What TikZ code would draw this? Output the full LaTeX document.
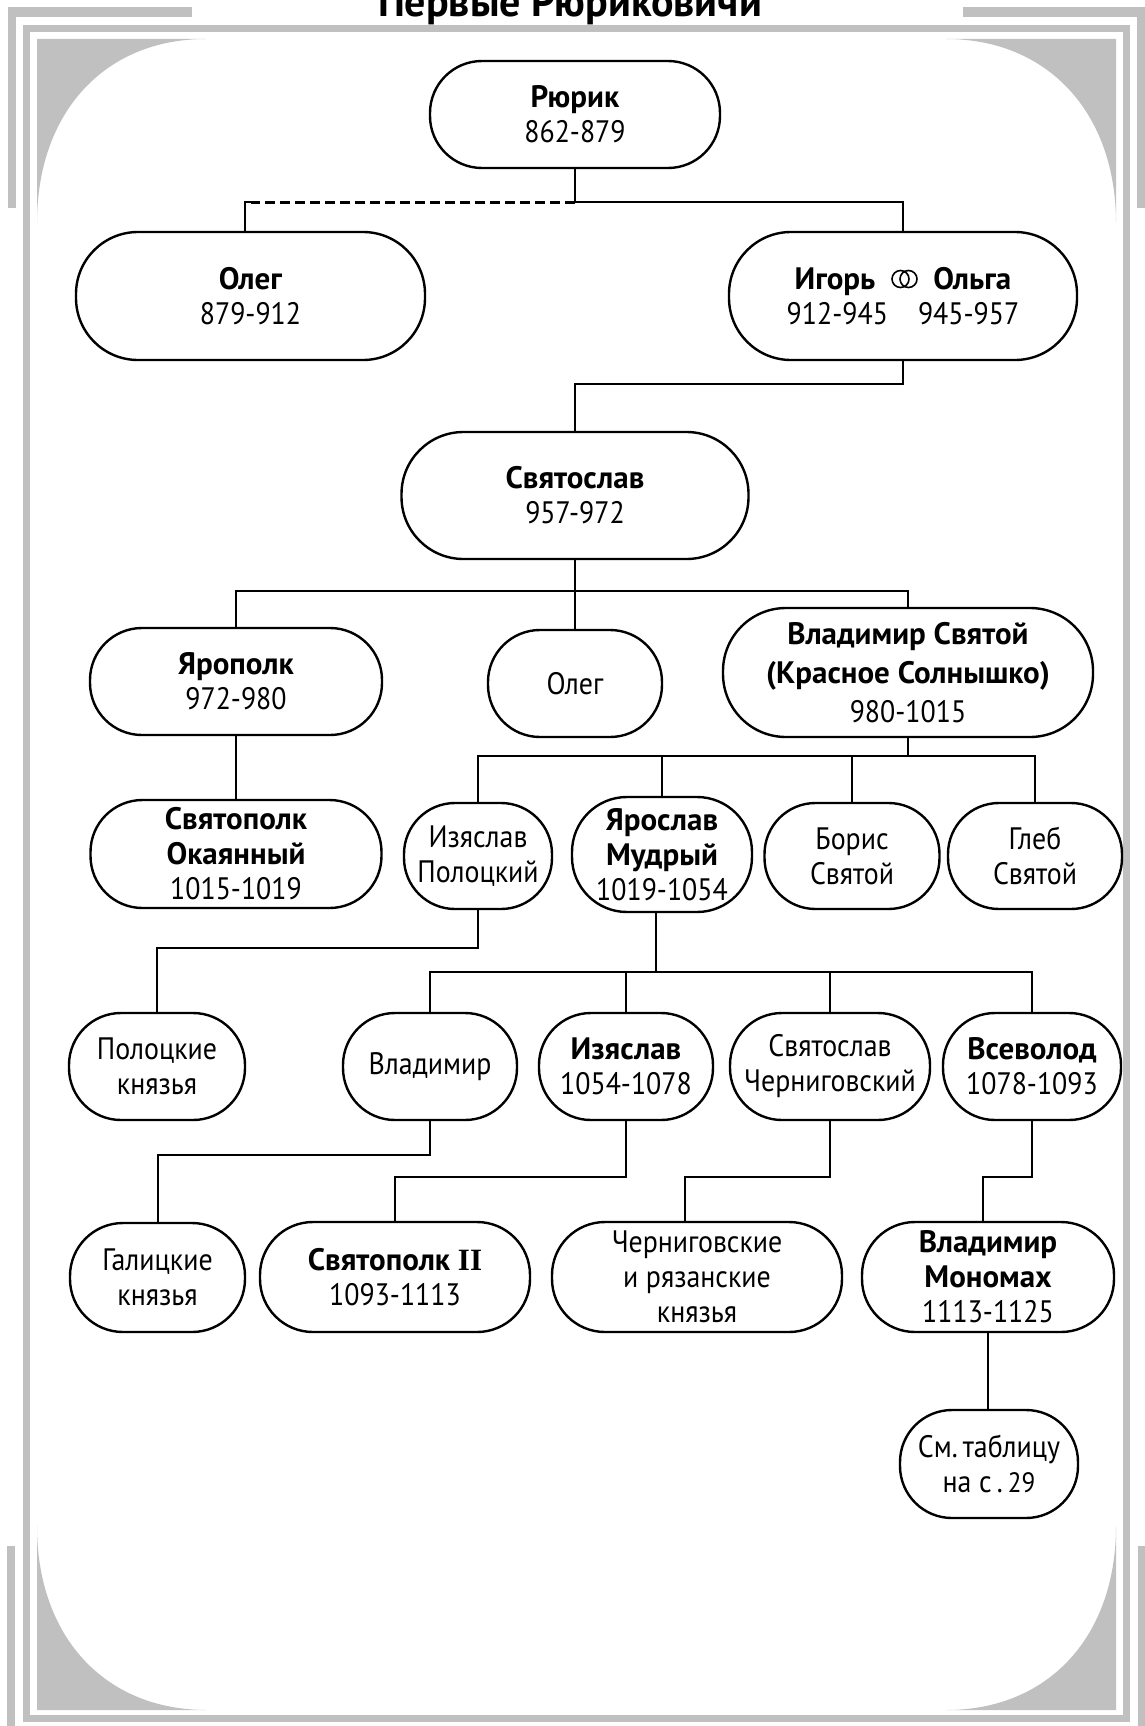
\documentclass[tikz,border=0pt]{standalone}
\usepackage{fontspec}
\setmainfont[FakeStretch=0.9, BoldFeatures={FakeStretch=1.0}]{PT Sans}
\newfontfamily\romanfont{Liberation Serif}
\usetikzlibrary{calc}
\definecolor{framegray}{RGB}{192,192,192}
\begin{document}
\begin{tikzpicture}[x=1pt,y=-1pt,
  pn/.style n args={3}{draw, line width=2.4pt, align=center, inner sep=0pt,
     minimum width=#1, minimum height=#2, rounded corners=#3,
     font=\fontsize{31}{35}\selectfont},
  link/.style={line width=2pt},
  dashlink/.style={line width=3pt, dash pattern=on 10pt off 5pt},
  ring/.style={line width=1.6pt}]
\useasboundingbox (0,0) rectangle (1145,1726);
% ---------- decorative frame ----------
\fill[framegray] (8,7) rectangle (192,17);
\fill[framegray] (8,7) rectangle (16,208);
\fill[framegray] (963,7) rectangle (1145,17);
\fill[framegray] (1137,7) rectangle (1145,208);
\fill[framegray] (7,1546) rectangle (15,1726);
\fill[framegray] (1138,1546) rectangle (1145,1726);
\draw[framegray, line width=7pt] (26.5,28.5) rectangle (1126.5,1718);
\fill[framegray] (37,39) -- (206,39) .. controls (104,39) and (37,113) .. (37,223) -- cycle;
\fill[framegray] (1116,39) -- (946,39) .. controls (1048,39) and (1116,113) .. (1116,223) -- cycle;
\fill[framegray] (37,1710) -- (37,1526) .. controls (37,1636) and (104,1710) .. (207,1710) -- cycle;
\fill[framegray] (1116,1710) -- (1116,1526) .. controls (1116,1636) and (1049,1710) .. (946,1710) -- cycle;
% ---------- title ----------
\node[font=\bfseries\fontsize{42}{42}\selectfont, anchor=base, inner sep=0pt] (title) at (570,17) {Первые Рюриковичи};
% ---------- nodes ----------
\node[pn={290pt}{107pt}{52pt}] (rurik) at (575,114.5) {\textbf{Рюрик}\\862-879};
\node[pn={349pt}{128pt}{62pt}] (oleg1) at (250.5,296) {\textbf{Олег}\\879-912};
\node[pn={348pt}{128pt}{62pt}] (igor) at (903,296) {\textbf{Игорь}\hspace{58pt}\textbf{Ольга}\\912-945\hspace{30pt}945-957};
\node[pn={347pt}{127pt}{62pt}] (svyat) at (575,495.5) {\textbf{Святослав}\\957-972};
\node[pn={292pt}{107pt}{52pt}] (yaropolk) at (236,681.5) {\textbf{Ярополк}\\972-980};
\node[pn={174pt}{107pt}{52pt}] (oleg2) at (575,683.5) {Олег};
\node[pn={370pt}{129pt}{63pt}, font=\fontsize{31}{39}\selectfont] (vlad1) at (908,672.5) {\textbf{Владимир Святой}\\\textbf{(Красное Солнышко)}\\980-1015};
\node[pn={291pt}{108pt}{52pt}] (svyatopolk) at (236,854) {\textbf{Святополк}\\\textbf{Окаянный}\\1015-1019};
\node[pn={148pt}{106pt}{51pt}] (izyP) at (478,856) {Изяслав\\Полоцкий};
\node[pn={180pt}{115pt}{55pt}] (yaroslav) at (662,854.5) {\textbf{Ярослав}\\\textbf{Мудрый}\\1019-1054};
\node[pn={175pt}{106pt}{51pt}] (boris) at (852,856) {Борис\\Святой};
\node[pn={174pt}{106pt}{51pt}] (gleb) at (1035,856) {Глеб\\Святой};
\node[pn={176pt}{107pt}{52pt}] (polotsk) at (157,1066.5) {Полоцкие\\князья};
\node[pn={174pt}{107pt}{52pt}] (vlad2) at (430,1066.5) {Владимир};
\node[pn={174pt}{107pt}{52pt}] (izyaslav) at (626,1066.5) {\textbf{Изяслав}\\1054-1078};
\node[pn={200pt}{107pt}{52pt}] (svyatCh) at (830,1066.5) {Святослав\\Черниговский};
\node[pn={178pt}{107pt}{52pt}] (vsevolod) at (1032,1066.5) {\textbf{Всеволод}\\1078-1093};
\node[pn={175pt}{109pt}{53pt}] (galich) at (157.5,1277.5) {Галицкие\\князья};
\node[pn={270pt}{110pt}{53pt}] (svyatopolk2) at (395,1277) {\textbf{Святополк {\romanfont II}}\\1093-1113};
\node[pn={290pt}{110pt}{53pt}] (chernigov) at (697,1277) {Черниговские\\и рязанские\\князья};
\node[pn={252pt}{110pt}{53pt}] (monomakh) at (988,1277) {\textbf{Владимир}\\\textbf{Мономах}\\1113-1125};
\node[pn={178pt}{108pt}{52pt}] (sm) at (989,1464) {См.\,таблицу\\на с\,.\,{\fontsize{28}{35}\selectfont 29}};
% ---------- marriage sign (two interlocking rings) ----------
\draw[ring] ($(igor.center)+(-2.5,-17)$) circle[radius=8.5];
\draw[ring] ($(igor.center)+(5.5,-17)$) circle[radius=8.5];
% ---------- connectors ----------
\coordinate (j0) at (575,202);
\draw[link] (rurik.south) -- (j0) -- (j0 -| igor.north) -- (igor.north);
\draw[dashlink] (j0) -- (j0 -| oleg1.north);
\draw[link] ([xshift=-6pt]oleg1.north) |- ([xshift=8pt]oleg1.north |- j0);
\coordinate (j1) at (575,384);
\draw[link] (igor.south) |- (j1) -- (svyat.north);
\coordinate (j2) at (575,591);
\draw[link] (svyat.south) -- (oleg2.north);
\draw[link] (yaropolk.north) |- (j2) -| (vlad1.north);
\draw[link] (yaropolk.south) -- (svyatopolk.north);
\coordinate (j3) at (908,756);
\draw[link] (vlad1.south) -- (j3);
\draw[link] (izyP.north) |- (j3) -| (gleb.north);
\draw[link] (yaroslav.north) -- (yaroslav.north |- j3);
\draw[link] (boris.north) -- (boris.north |- j3);
\draw[link] (izyP.south) -- ++(0,38) -| (polotsk.north);
\coordinate (j4) at (656,972);
\draw[link] (j4 |- yaroslav.south) -- (j4);
\draw[link] (vlad2.north) |- (j4) -| (vsevolod.north);
\draw[link] (izyaslav.north) -- (izyaslav.north |- j4);
\draw[link] (svyatCh.north) -- (svyatCh.north |- j4);
\draw[link] (vlad2.south) -- ++(0,34) -| (galich.north);
\draw[link] (izyaslav.south) -- ++(0,56) -| (svyatopolk2.north);
\draw[link] (svyatCh.south) -- ++(0,56) -| ([xshift=-12pt]chernigov.north);
\draw[link] (vsevolod.south) -- ++(0,56) -| ([xshift=-5pt]monomakh.north);
\draw[link] (monomakh.south) -- (monomakh.south |- sm.north);
\end{tikzpicture}
\end{document}
